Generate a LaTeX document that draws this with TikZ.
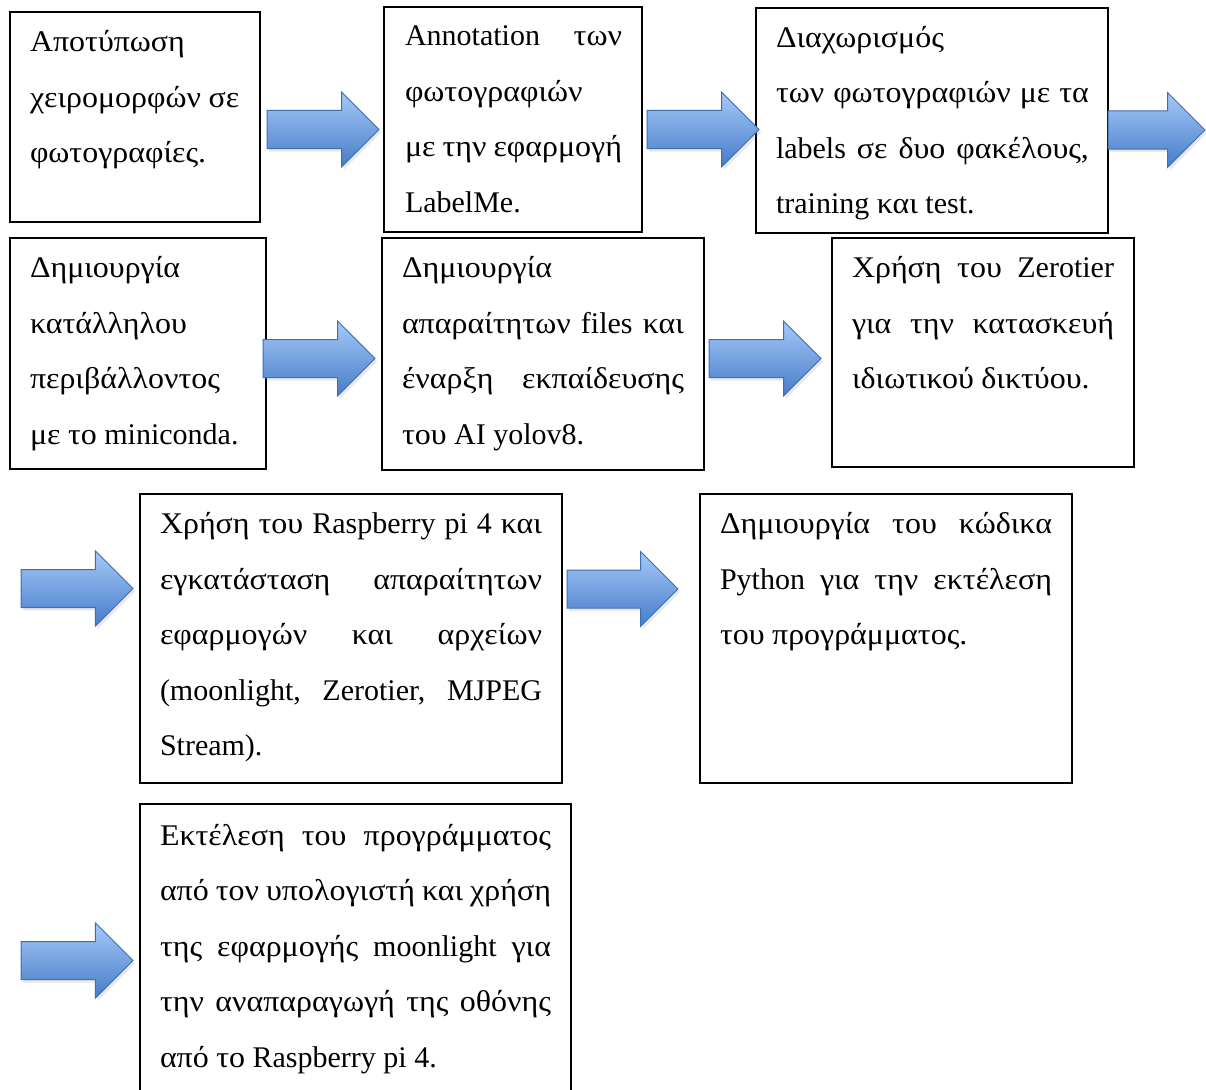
\documentclass[tikz,border=0pt]{standalone}
\usepackage{fontspec}
\setmainfont{Liberation Serif}[FakeStretch=1.065]
\newfontfamily\latf{Liberation Serif}
\newcommand\lt[1]{{\latf #1}}
\usetikzlibrary{shapes.arrows,shadows}
\definecolor{arrtop}{RGB}{165,201,248}
\definecolor{arrbot}{RGB}{70,124,200}
\definecolor{arredge}{RGB}{62,110,178}
\tikzset{
  stepbox/.style={draw=black, line width=1.1pt, rectangle, anchor=north west, inner sep=0pt, outer sep=0pt},
  txt/.style={anchor=base west, inner sep=0pt, outer sep=0pt, align=justify,
    font=\fontsize{30}{55.5}\selectfont,
    execute at begin node={\spaceskip=7.5pt plus 30pt minus 3pt\relax\hyphenpenalty=10000\exhyphenpenalty=10000\tolerance=10000\relax}},
  blockarrow/.style={single arrow, single arrow head extend=18.5pt, inner xsep=0pt, inner ysep=18.5pt,
    anchor=tail, outer sep=0pt,
    top color=arrtop, bottom color=arrbot, draw=arredge, line width=1pt,
    drop shadow={shadow xshift=2pt, shadow yshift=-3pt, opacity=0.18}},
}
\begin{document}
\begin{tikzpicture}[x=1pt,y=-1pt]
\clip (0,0) rectangle (1206,1089);
\fill[white] (0,0) rectangle (1206,1089);

% boxes
\node[stepbox, minimum width=250pt, minimum height=210pt] (bA) at (10,12) {};
\node[stepbox, minimum width=258pt, minimum height=225pt] (bB) at (384,7) {};
\node[stepbox, minimum width=352pt, minimum height=225pt] (bC) at (756,8) {};
\node[stepbox, minimum width=256pt, minimum height=231pt] (bD) at (10,238) {};
\node[stepbox, minimum width=322pt, minimum height=232pt] (bE) at (382,238) {};
\node[stepbox, minimum width=302pt, minimum height=229pt] (bF) at (832,238) {};
\node[stepbox, minimum width=422pt, minimum height=289pt] (bG) at (140,494) {};
\node[stepbox, minimum width=372pt, minimum height=289pt] (bH) at (700,494) {};
\node[stepbox, minimum width=431pt, minimum height=320pt] (bI) at (140,804) {};

% texts
\node[txt, text width=217pt] (tA) at (30,52) {Αποτύπωση\\ χειρομορφών σε\\ φωτογραφίες.};
\node[txt, text width=217pt] (tB) at (405,46) {\lt{Annotation} των\linebreak φωτογραφιών\\ με την εφαρμογή\linebreak \lt{LabelMe.}};
\node[txt, text width=313pt] (tC) at (776,47.5) {Διαχωρισμός\\ των φωτογραφιών με τα\linebreak \lt{labels} σε δυο φακέλους,\linebreak \lt{training} και \lt{test.}};
\node[txt, text width=216pt] (tD) at (30,277.5) {Δημιουργία\\ κατάλληλου\\ περιβάλλοντος\\ με το \lt{miniconda.}};
\node[txt, text width=282pt] (tE) at (402,277.5) {Δημιουργία\\ απαραίτητων \lt{files} και\linebreak έναρξη εκπαίδευσης\linebreak του \lt{AI yolov8.}};
\node[txt, text width=262pt] (tF) at (852,277.5) {Χρήση του \lt{Zerotier}\linebreak για την κατασκευή\linebreak ιδιωτικού δικτύου.};
\node[txt, text width=382pt] (tG) at (160,533.5) {Χρήση του \lt{Raspberry pi 4} και\linebreak εγκατάσταση απαραίτητων\linebreak εφαρμογών και αρχείων\linebreak \lt{(moonlight, Zerotier, MJPEG}\linebreak \lt{Stream).}};
\node[txt, text width=332pt] (tH) at (720,533.5) {Δημιουργία του κώδικα\linebreak \lt{Python} για την εκτέλεση\linebreak του προγράμματος.};
\node[txt, text width=391pt] (tI) at (160,845) {Εκτέλεση του προγράμματος\linebreak από τον υπολογιστή και χρήση\linebreak της εφαρμογής \lt{moonlight} για\linebreak την αναπαραγωγή της οθόνης\linebreak από το \lt{Raspberry pi 4.}};

% block arrows (placed by their tail)
\node[blockarrow, minimum height=112pt] (r1) at (267,129.5) {};
\node[blockarrow, minimum height=112pt] (r2) at (647,129.5) {};
\node[blockarrow, minimum height=97pt] (r3) at (1108,130) {};
\node[blockarrow, minimum height=112pt] (r4) at (263,358.5) {};
\node[blockarrow, minimum height=112pt] (r5) at (709,358.5) {};
\node[blockarrow, minimum height=112pt] (r6) at (21,588.5) {};
\node[blockarrow, minimum height=111pt] (r7) at (567,589) {};
\node[blockarrow, minimum height=112pt] (r8) at (21,960.5) {};
\end{tikzpicture}
\end{document}
